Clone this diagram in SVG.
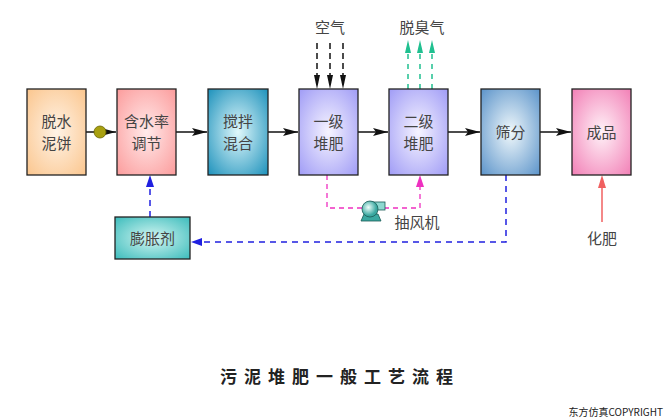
<svg xmlns="http://www.w3.org/2000/svg" width="666" height="420" viewBox="0 0 666 420">
<style>
.box{stroke:#222;stroke-width:1.3}
.t{font-family:"Noto Sans CJK SC","Noto Sans",sans-serif;font-size:15px;fill:#444;text-anchor:middle}
.blk{stroke:#111;stroke-width:1.5;fill:none}
</style>
<defs>
<radialGradient id="gOrange" r="0.7"><stop offset="0" stop-color="#fff3e6"/><stop offset="1" stop-color="#fbc68e"/></radialGradient>
<radialGradient id="gRed" r="0.7"><stop offset="0" stop-color="#ffeaea"/><stop offset="1" stop-color="#fc9c9c"/></radialGradient>
<radialGradient id="gTeal" r="0.7"><stop offset="0" stop-color="#e0f8fb"/><stop offset="1" stop-color="#1e92bc"/></radialGradient>
<radialGradient id="gLav" r="0.7"><stop offset="0" stop-color="#f6f4ff"/><stop offset="1" stop-color="#a09cf6"/></radialGradient>
<radialGradient id="gSteel" r="0.7"><stop offset="0" stop-color="#f0f8fb"/><stop offset="1" stop-color="#5c94ca"/></radialGradient>
<radialGradient id="gPink" r="0.7"><stop offset="0" stop-color="#fff2f8"/><stop offset="1" stop-color="#f280b6"/></radialGradient>
<radialGradient id="gAqua" r="0.7"><stop offset="0" stop-color="#d4f6f2"/><stop offset="1" stop-color="#3cbcbc"/></radialGradient>
<radialGradient id="gFan" cx="0.4" cy="0.4"><stop offset="0" stop-color="#f0fffc"/><stop offset="1" stop-color="#3aa8a0"/></radialGradient>
<marker id="aBlk" markerWidth="16" markerHeight="10" refX="15" refY="5" orient="auto" markerUnits="userSpaceOnUse"><path d="M0,1 L15,5 L0,9 L3,5 Z" fill="#111"/></marker>
</defs>

<g id="connectors">
  <line x1="86" y1="132" x2="116" y2="132" class="blk" marker-end="url(#aBlk)"/>
  <circle cx="100" cy="132" r="6" fill="#a8a010" stroke="#6a6400" stroke-width="0.8"/>
  <line x1="176" y1="132" x2="207" y2="132" class="blk" marker-end="url(#aBlk)"/>
  <line x1="268" y1="132" x2="298" y2="132" class="blk" marker-end="url(#aBlk)"/>
  <line x1="358" y1="132" x2="388" y2="132" class="blk" marker-end="url(#aBlk)"/>
  <line x1="448" y1="132" x2="480" y2="132" class="blk" marker-end="url(#aBlk)"/>
  <line x1="540" y1="132" x2="571" y2="132" class="blk" marker-end="url(#aBlk)"/>
  <g stroke="#111" stroke-width="1.5" stroke-dasharray="6,4">
    <line x1="317" y1="43" x2="317" y2="76"/>
    <line x1="330" y1="43" x2="330" y2="76"/>
    <line x1="343" y1="43" x2="343" y2="76"/>
  </g>
  <g fill="#111">
    <path d="M314,75 L320,75 L317,89 Z"/>
    <path d="M327,75 L333,75 L330,89 Z"/>
    <path d="M340,75 L346,75 L343,89 Z"/>
  </g>
  <g stroke="#20c090" stroke-width="1.5" stroke-dasharray="5,5">
    <line x1="408" y1="89" x2="408" y2="54"/>
    <line x1="420" y1="89" x2="420" y2="54"/>
    <line x1="432" y1="89" x2="432" y2="54"/>
  </g>
  <g fill="#20c090">
    <path d="M405,53 L411,53 L408,40 Z"/>
    <path d="M417,53 L423,53 L420,40 Z"/>
    <path d="M429,53 L435,53 L432,40 Z"/>
  </g>
  <path d="M327,175 V208 H420 V186" fill="none" stroke="#ee30c0" stroke-width="1.3" stroke-dasharray="5,4"/>
  <path d="M416,187 L424,187 L420,175 Z" fill="#ee30c0"/>
  <path d="M506,175 V242 H200" fill="none" stroke="#2020e0" stroke-width="1.5" stroke-dasharray="6,5"/>
  <path d="M191,242 L202,238 L202,246 Z" fill="#2020e0"/>
  <line x1="150" y1="217" x2="150" y2="186" stroke="#2020e0" stroke-width="1.5" stroke-dasharray="6,5"/>
  <path d="M150,175 L146,187 L154,187 Z" fill="#2020e0"/>
  <line x1="602" y1="222" x2="602" y2="186" stroke="#f06060" stroke-width="1.5"/>
  <path d="M602,175 L598,188 L606,188 Z" fill="#f06060"/>
</g>

<g id="n1"><rect class="box" x="27" y="89" width="59" height="86" fill="url(#gOrange)"/><text class="t" x="56.5" y="127">脱水</text><text class="t" x="56.5" y="149">泥饼</text></g>
<g id="n2"><rect class="box" x="117" y="89" width="59" height="86" fill="url(#gRed)"/><text class="t" x="146.5" y="127">含水率</text><text class="t" x="146.5" y="149">调节</text></g>
<g id="n3"><rect class="box" x="208" y="89" width="60" height="86" fill="url(#gTeal)"/><text class="t" x="238" y="127">搅拌</text><text class="t" x="238" y="149">混合</text></g>
<g id="n4"><rect class="box" x="299" y="89" width="59" height="86" fill="url(#gLav)"/><text class="t" x="328.5" y="127">一级</text><text class="t" x="328.5" y="149">堆肥</text></g>
<g id="n5"><rect class="box" x="389" y="89" width="59" height="86" fill="url(#gLav)"/><text class="t" x="418.5" y="127">二级</text><text class="t" x="418.5" y="149">堆肥</text></g>
<g id="n6"><rect class="box" x="481" y="89" width="59" height="86" fill="url(#gSteel)"/><text class="t" x="510.5" y="138">筛分</text></g>
<g id="n7"><rect class="box" x="572" y="89" width="59" height="86" fill="url(#gPink)"/><text class="t" x="601.5" y="138">成品</text></g>
<g id="n8"><rect class="box" x="115" y="217" width="75" height="42" fill="url(#gAqua)"/><text class="t" x="152.5" y="244">膨胀剂</text></g>
<g id="fan">
  <path d="M364,214 L378,214 L381,221 L361,221 Z" fill="#3aa8a0" stroke="#1a5a56" stroke-width="0.8"/>
  <rect x="370" y="202" width="15" height="8" fill="#8ed8d0" stroke="#1a5a56" stroke-width="0.8"/>
  <circle cx="370" cy="209" r="8" fill="url(#gFan)" stroke="#1a5a56" stroke-width="0.8"/>
  <text class="t" x="417" y="228">抽风机</text>
</g>
<g id="labels">
  <text class="t" x="330" y="33">空气</text>
  <text class="t" x="422" y="33">脱臭气</text>
  <text class="t" x="602" y="244">化肥</text>
  <text x="340" y="383" text-anchor="middle" font-family="'Noto Sans CJK SC',sans-serif" font-size="17" font-weight="bold" letter-spacing="7" fill="#222">污泥堆肥一般工艺流程</text>
  <text x="663" y="416" text-anchor="end" font-family="'Noto Sans CJK SC','Liberation Sans',sans-serif" font-size="10" fill="#222">东方仿真COPYRIGHT</text>
</g>
</svg>
